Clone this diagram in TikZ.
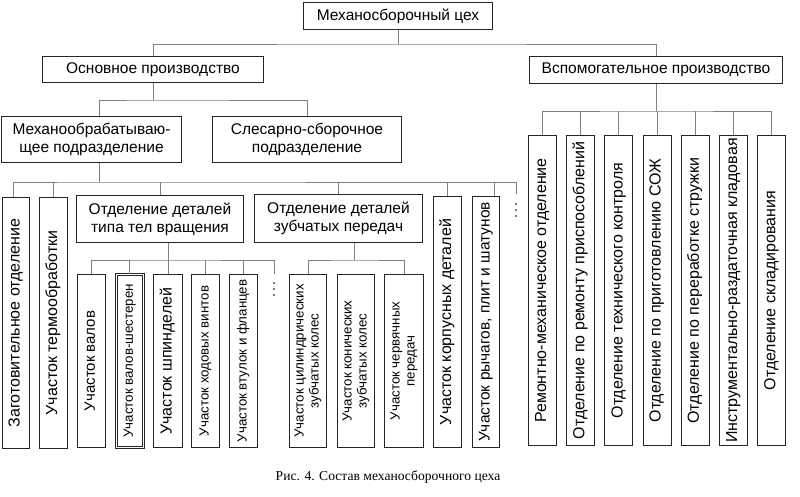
\documentclass[tikz,border=0pt]{standalone}
\usepackage{fontspec}
\setmainfont{Liberation Sans}
\newfontfamily\capfont{Liberation Serif}
\usetikzlibrary{positioning,calc}
\newcommand{\fs}[2]{\fontsize{#1}{#2}\selectfont}
\newcommand{\vtext}[1]{\rotatebox{90}{\begin{tabular}{@{}c@{}}#1\end{tabular}}}

\begin{document}
\begin{tikzpicture}[
            x=1pt,y=-1pt,
            box/.style={draw=black!85,line width=1pt,inner sep=0pt,align=center,anchor=north west,font=\fs{15.5}{18}},
            unit/.style={box,minimum width=29pt,font=\fs{16}{18}},
            small/.style={font=\fs{13.3}{15}},
            link/.style={draw=black!50,line width=1pt},
        ]
            \useasboundingbox (0,0) rectangle (800,496);

            \node[box,minimum width=189,minimum height=27] (ceh) at (303,2) {Механосборочный цех};
            \node[box,minimum width=221,minimum height=26] (osn) at (42,56) {Основное производство};
            \node[box,minimum width=253,minimum height=27] (vsp) at (529,56) {Вспомогательное производство};
            \node[box,minimum width=180,minimum height=46] (meh) at (1,116) {Механообрабатываю-\\щее подразделение};
            \node[box,minimum width=189,minimum height=46] (sles) at (212,116) {Слесарно-сборочное\\подразделение};
            \node[box,minimum width=167,minimum height=47] (tel) at (76,195) {Отделение деталей\\типа тел вращения};
            \node[box,minimum width=168,minimum height=48] (zub) at (254,194) {Отделение деталей\\зубчатых передач};

            \node[unit,minimum width=27,minimum height=251] (zag) at (2,197) {\vtext{Заготовительное отделение}};
            \node[unit,minimum width=28,minimum height=251] (term) at (39,197) {\vtext{Участок термообработки}};
            \node[unit,minimum width=28,minimum height=251] (korp) at (433,196) {\vtext{Участок корпусных деталей}};
            \node[unit,minimum width=27,minimum height=251,font=\fs{15.5}{18}] (rych) at (472,196) {\vtext{Участок рычагов, плит и шатунов}};

            \node[unit,minimum width=28,minimum height=173,font=\fs{15}{17}] (valov) at (77,274) {\vtext{Участок валов\rule{0pt}{0pt}\hspace{18pt}}};
            \node[unit,small,minimum width=27,minimum height=173,double,double distance=1.2pt,line width=0.8pt] (shest) at (116,274) {\vtext{Участок валов-шестерен}};
            \node[unit,minimum width=29,minimum height=173] (shp) at (153,274) {\vtext{Участок шпинделей}};
            \node[unit,small,minimum width=28,minimum height=173] (hod) at (191,274) {\vtext{Участок ходовых винтов}};
            \node[unit,small,minimum width=28,minimum height=173] (vtul) at (229,274) {\vtext{Участок втулок и фланцев}};
            \node[unit,small,minimum width=37,minimum height=173] (cyl) at (289,274) {\vtext{Участок цилиндрических\\зубчатых колес}};
            \node[unit,small,minimum width=37,minimum height=173] (kon) at (337,274) {\vtext{Участок конических\\зубчатых колес}};
            \node[unit,small,minimum width=39,minimum height=173] (cherv) at (384,274) {\vtext{Участок червячных\\передач}};

            \foreach \t [count=\i] in {Ремонтно-механическое отделение,Отделение по ремонту приспособлений,Отделение технического контроля,Отделение по приготовлению СОЖ,Отделение по переработке стружки,Инструментально-раздаточная кладовая,Отделение складирования}
                \node[unit,minimum width=28,minimum height=310] (r\i) at ({528+38.2*(\i-1)},135) {\vtext{\t}};

            \node[font=\capfont\fs{13.6}{15}] (cap) at (388,477) {Рис. 4. Состав механосборочного цеха};

            % first levels
            \draw[link] (ceh.south) -- ++(0,14) coordinate (b1);
            \draw[link] (osn.north) |- (b1) -| (vsp.north);
            \draw[link] (osn.south) -- ++(0,17) coordinate (b2);
            \draw[link] ([xshift=8pt]meh.north) |- (b2) -| (sles.north);

            % shop sections
            \draw[link] ([xshift=8pt]meh.south) -- ++(0,19) coordinate (b3);
            \coordinate (dotsa) at (516,194);
            \draw[link] ([xshift=-3pt]zag.north) |- (b3) -| (dotsa);
            \foreach \n in {term,tel,zub,korp}
                \draw[link] (\n.north) -- (\n.north |- b3);
            \draw[link] ([xshift=8pt]rych.north) -- ([xshift=8pt]rych.north |- b3);
            \foreach \k in {10,16,22}
                \fill[black!70] ($(dotsa)+(0,\k)$) circle (1.1);

            \coordinate (b4) at ($(tel.south -| shp)+(0,17)$);
            \coordinate (dotsb) at (274,274);
            \draw[link] (tel.south -| shp) -- (shp.north);
            \draw[link] (valov.north) |- (b4) -| (dotsb);
            \foreach \n in {shest,hod,vtul}
                \draw[link] (\n.north) -- (\n.north |- b4);
            \foreach \k in {9,15,21}
                \fill[black!70] ($(dotsb)+(0,\k)$) circle (1.1);

            \coordinate (b5) at ($(zub.south -| kon)+(-2,17)$);
            \draw[link] (b5 |- zub.south) -- (b5);
            \draw[link] (cyl.north) |- (b5) -| (cherv.north);

            % auxiliary production
            \draw[link] (vsp.south) -- ++(0,27) coordinate (b6);
            \draw[link] (r1.north) |- (b6) -| (r7.north);
            \foreach \i in {2,...,6}
                \draw[link] (r\i.north) -- (r\i.north |- b6);
        \end{tikzpicture}
\end{document}
